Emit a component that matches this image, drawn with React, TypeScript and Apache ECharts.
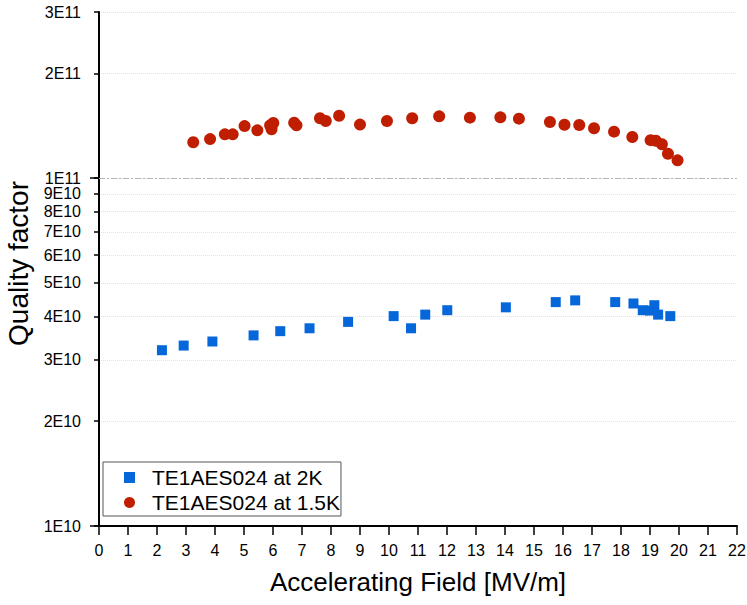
import React, { useEffect, useRef } from "react";
import * as echarts from "echarts";

const xCategoriesMax = 22;
const yTickValues = [1e10, 2e10, 3e10, 4e10, 5e10, 6e10, 7e10, 8e10, 9e10, 1e11, 2e11, 3e11];
const yMajorTicks = [1e10, 1e11];

const field2K = [2.17, 2.92, 3.91, 5.33, 6.25, 7.26, 8.59, 10.16, 10.76, 11.25, 12.01, 14.03, 15.75, 16.42, 17.8, 18.43, 18.75, 19.0, 19.15, 19.28, 19.7];
const q2K = [3.2e10, 3.3e10, 3.39e10, 3.53e10, 3.63e10, 3.7e10, 3.86e10, 4.01e10, 3.7e10, 4.05e10, 4.17e10, 4.25e10, 4.4e10, 4.45e10, 4.4e10, 4.36e10, 4.17e10, 4.16e10, 4.31e10, 4.05e10, 4.01e10];

const field15K = [3.25, 3.83, 4.34, 4.61, 5.02, 5.46, 5.9, 6.01, 5.95, 6.73, 6.81, 7.62, 7.82, 8.28, 9.0, 9.93, 10.8, 11.73, 12.79, 13.84, 14.48, 15.55, 16.05, 16.56, 17.07, 17.76, 18.39, 19.02, 19.2, 19.41, 19.62, 19.95];
const q15K = [1.267e11, 1.294e11, 1.335e11, 1.335e11, 1.41e11, 1.371e11, 1.417e11, 1.439e11, 1.38e11, 1.442e11, 1.417e11, 1.485e11, 1.458e11, 1.51e11, 1.424e11, 1.458e11, 1.485e11, 1.504e11, 1.491e11, 1.494e11, 1.481e11, 1.449e11, 1.423e11, 1.42e11, 1.39e11, 1.359e11, 1.312e11, 1.285e11, 1.28e11, 1.25e11, 1.1745e11, 1.124e11];

const seriesNames = ["TE1AES024 at 2K", "TE1AES024 at 1.5K"];

const FONT = "'Liberation Sans', Arial, sans-serif";

function fmtSci(v: number): string {
  const e = Math.floor(Math.log10(v) + 1e-9);
  const m = Math.round(v / Math.pow(10, e));
  return `${m}E${e}`;
}

export default function App() {
  const ref = useRef<HTMLDivElement>(null);
  useEffect(() => {
    document.body.style.margin = "0";
    if (!ref.current) return;
    const chart = echarts.init(ref.current, undefined, { renderer: "svg" });
    const yMin = 1e10;
    const yMax = 3e11;
    chart.setOption({
      animation: false,
      backgroundColor: "#ffffff",
      textStyle: { fontFamily: FONT },
      grid: { left: 99, right: 10, top: 12, bottom: 79, containLabel: false, outerBoundsMode: "none" },
      legend: {
        orient: "vertical",
        left: 103,
        top: 462,
        data: [
          { name: seriesNames[0], icon: "rect" },
          { name: seriesNames[1], icon: "circle" },
        ],
        itemWidth: 11,
        itemHeight: 11,
        itemGap: 4,
        padding: [5, 1, 3, 21],
        borderColor: "#555555",
        borderWidth: 1,
        backgroundColor: "#ffffff",
        textStyle: { fontSize: 21, color: "#000", fontFamily: FONT, padding: [0, 0, 0, 12] },
      },
      xAxis: {
        type: "value",
        min: 0,
        max: xCategoriesMax,
        interval: 1,
        name: "Accelerating Field [MV/m]",
        nameLocation: "middle",
        nameGap: 43,
        nameTextStyle: { fontSize: 26, color: "#000", fontFamily: FONT },
        axisLine: { show: true, onZero: false, lineStyle: { color: "#000", width: 2 } },
        axisTick: { show: true, length: 9, lineStyle: { color: "#000", width: 1.5 } },
        axisLabel: { fontSize: 16, color: "#000", margin: 16, fontFamily: FONT },
        splitLine: { show: false },
      },
      yAxis: [
        {
          type: "log",
          logBase: 10,
          min: yMin,
          max: yMax,
          name: "Quality factor",
          nameLocation: "middle",
          nameGap: 58,
          nameTextStyle: { fontSize: 28, color: "#000", fontFamily: FONT, padding: [0, 0, 0, 11] },
          axisLine: { show: true, lineStyle: { color: "#000", width: 2 } },
          axisTick: { show: true, length: 5, customValues: yTickValues, lineStyle: { color: "#000", width: 1.5 } },
          axisLabel: {
            fontSize: 16,
            color: "#000",
            margin: 18,
            fontFamily: FONT,
            customValues: yTickValues,
            formatter: (v: number) => fmtSci(v),
          },
          splitLine: { show: true, lineStyle: { color: "#e3e3e3", type: "dotted", width: 1 } },
        },
        {
          type: "log",
          logBase: 10,
          min: yMin,
          max: yMax,
          position: "left",
          offset: 0,
          axisLine: { show: false },
          axisTick: { show: true, length: 9, customValues: yMajorTicks, lineStyle: { color: "#000", width: 1.5 } },
          axisLabel: { show: false },
          splitLine: { show: false },
        },
      ],
      series: [
        {
          name: seriesNames[0],
          type: "scatter",
          symbol: "rect",
          symbolSize: 10,
          itemStyle: { color: "#0567DA", opacity: 1 },
          data: field2K.map((x, i) => [x, q2K[i]]),
          markLine: {
            silent: true,
            symbol: "none",
            label: { show: false },
            lineStyle: { color: "#b5b5b5", type: [6, 2, 2, 2], width: 1 },
            data: [{ yAxis: 1e11 }],
          },
          z: 3,
        },
        {
          name: seriesNames[1],
          type: "scatter",
          symbol: "circle",
          symbolSize: 12,
          itemStyle: { color: "#C01E00", opacity: 1 },
          data: field15K.map((x, i) => [x, q15K[i]]),
          z: 3,
        },
      ],
    });
    return () => chart.dispose();
  }, []);
  return <div ref={ref} style={{ width: 747, height: 605 }} />;
}
